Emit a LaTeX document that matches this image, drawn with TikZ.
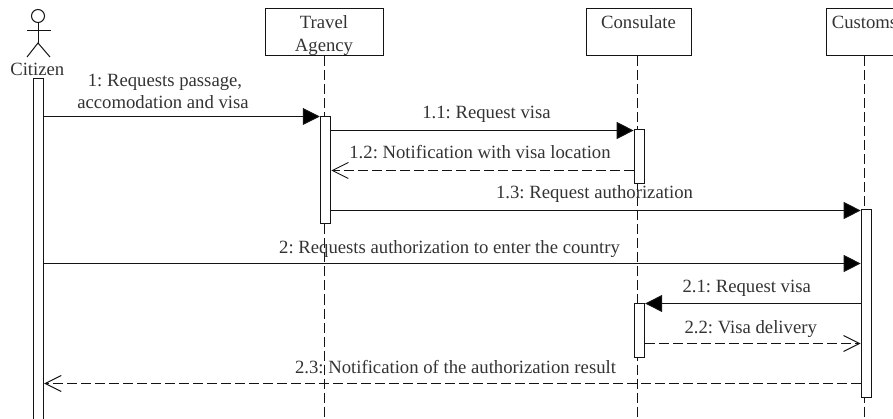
\documentclass[tikz,border=0pt]{standalone}
\usepackage{fontspec}
\setmainfont{Liberation Serif}
\frenchspacing
\usetikzlibrary{arrows.meta}
\tikzset{
  base/.style={line width=1pt,draw=black!92},
  objbox/.style={base,rectangle,inner sep=0pt,minimum height=47pt,align=center,font=\fontsize{18.7}{23.3}\selectfont\frenchspacing,text=black!80},
  life/.style={base,dash pattern=on 10pt off 4pt},
  activ/.style={base,rectangle,fill=white,inner sep=0pt,minimum width=10.5pt},
  syncmsg/.style={base,-{Triangle[length=17pt,width=17pt,fill=black]}},
  retmsg/.style={base,dash pattern=on 10pt off 4pt,-{Straight Barb[length=16pt,width=16pt]}},
  msgtext/.style={inner sep=0pt,anchor=base,text=black!80,font=\fontsize{18.7}{22}\selectfont\frenchspacing},
}
\newcommand{\boxtop}{\rule{0pt}{19pt}}
\newcommand{\boxend}{\rule[-4pt]{0pt}{4pt}}
\begin{document}
\begin{tikzpicture}[x=1pt,y=-1pt]
\useasboundingbox (0,0) rectangle (893,419);
% objects
\node[objbox,minimum width=118pt] (agency) at (324,32.5) {\boxtop Travel\\Agency\boxend};
\node[objbox,minimum width=105pt] (consulate) at (638.5,32.5) {\boxtop Consulate\\\boxend};
\node[objbox,minimum width=76pt] (customs) at (864.5,32.5) {\boxtop Customs\\\boxend};
% actor
\node[base,circle,inner sep=0pt,minimum size=13pt] (head) at (38,16) {};
\coordinate (hip) at (38,43);
\coordinate (armL) at (27,31);
\coordinate (armR) at (51,31);
\coordinate (legL) at (27,57);
\coordinate (legR) at (50,57);
\draw[base] (head.south) -- (hip);
\draw[base] (armL) -- (armR);
\draw[base] (legL) -- (hip) -- (legR);
\node[msgtext] (citizen) at (37.3,75.5) {Citizen};
% lifeline ends
\coordinate (agencyEnd) at (324.3,419);
\coordinate (consulateEnd) at (637.8,419);
\coordinate (customsEnd) at (864.5,419);
\draw[life] (agency.south -| agencyEnd) -- (agencyEnd);
\draw[life] (consulate.south -| consulateEnd) -- (consulateEnd);
\draw[life] (customs.south -| customsEnd) -- (customsEnd);
% activations
\node[activ,minimum height=345pt] (aCit) at (38.4,251.5) {};
\node[activ,minimum height=107pt] (aAg) at (325.5,169.7) {};
\node[activ,minimum height=54pt] (aCon) at (639.4,156.5) {};
\node[activ,minimum height=187pt] (aCus) at (866.4,303.5) {};
\node[activ,minimum height=54pt] (aCon2) at (639.4,330.3) {};
% message rows
\coordinate (r1) at (0,116.5);
\coordinate (r11) at (0,130.5);
\coordinate (r12) at (0,170.5);
\coordinate (r13) at (0,210.5);
\coordinate (r2) at (0,263.5);
\coordinate (r21) at (0,303.5);
\coordinate (r22) at (0,343.5);
\coordinate (r23) at (0,383.5);
% messages
\draw[syncmsg] (aCit.east |- r1) -- (aAg.west |- r1);
\draw[syncmsg] (aAg.east |- r11) -- (aCon.west |- r11);
\draw[retmsg] (aCon.west |- r12) -- (aAg.east |- r12);
\draw[syncmsg] (aAg.east |- r13) -- (aCus.west |- r13);
\draw[syncmsg] (aCit.east |- r2) -- (aCus.west |- r2);
\draw[syncmsg] (aCus.west |- r21) -- (aCon2.east |- r21);
\draw[retmsg] (aCon2.east |- r22) -- (aCus.west |- r22);
\draw[retmsg] (aCus.west |- r23) -- (aCit.east |- r23);
% labels
\node[msgtext] (l1a) at (165,86.7) {1: Requests passage,};
\node[msgtext] (l1b) at (163,108.4) {accomodation and visa};
\node[msgtext] (l11) at (486.5,119) {1.1: Request visa};
\node[msgtext] (l12) at (480,158.7) {1.2: Notification with visa location};
\node[msgtext] (l13) at (594.5,198.7) {1.3: Request authorization};
\node[msgtext] (l2) at (449.5,253.2) {2: Requests authorization to enter the country};
\node[msgtext] (l21) at (746.7,292.7) {2.1: Request visa};
\node[msgtext] (l22) at (750.7,333.7) {2.2: Visa delivery};
\node[msgtext] (l23) at (455.5,373.4) {2.3: Notification of the authorization result};
\end{tikzpicture}
\end{document}
